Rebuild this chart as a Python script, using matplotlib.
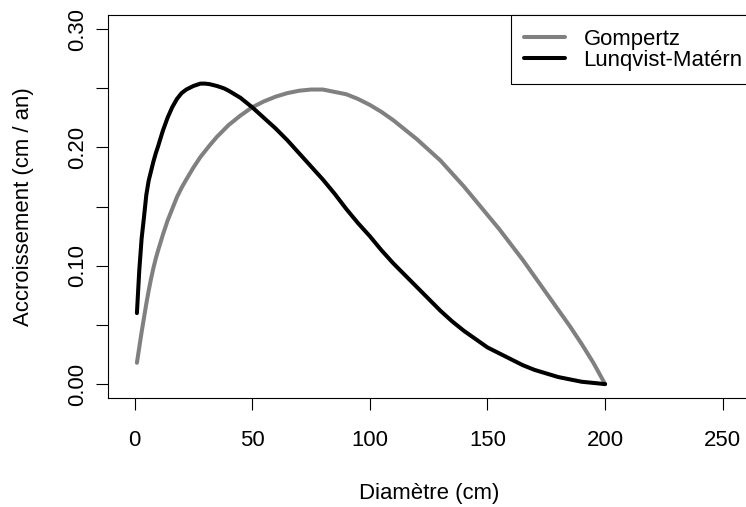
import matplotlib
matplotlib.use("Agg")
import matplotlib.pyplot as plt

plt.rcParams['font.family'] = ['Liberation Sans', 'DejaVu Sans']

# Data
diam = [1, 2, 3, 4, 5, 6, 7, 8, 9, 10, 12, 14, 16, 18, 20, 22, 25, 28, 30, 32, 35, 38,
        40, 45, 50, 55, 60, 65, 70, 75, 80, 85, 90, 95, 100, 105, 110, 115, 120, 125,
        130, 135, 140, 145, 150, 155, 160, 165, 170, 175, 180, 185, 190, 195, 200]
gompertz = [0.018, 0.031, 0.044, 0.056, 0.068, 0.079, 0.089, 0.098, 0.106, 0.113,
            0.126, 0.138, 0.148, 0.158, 0.166, 0.173, 0.183, 0.192, 0.197, 0.202,
            0.209, 0.215, 0.219, 0.227, 0.234, 0.239, 0.243, 0.246, 0.248, 0.249,
            0.249, 0.247, 0.245, 0.241, 0.236, 0.230, 0.223, 0.215, 0.207, 0.198,
            0.189, 0.178, 0.167, 0.155, 0.143, 0.131, 0.118, 0.105, 0.091, 0.077,
            0.063, 0.049, 0.034, 0.018, 0.000]
lunqvist = [0.060, 0.096, 0.123, 0.141, 0.160, 0.172, 0.180, 0.188, 0.195, 0.201,
            0.214, 0.225, 0.234, 0.241, 0.246, 0.249, 0.252, 0.254, 0.254, 0.2535,
            0.252, 0.250, 0.248, 0.242, 0.234, 0.225, 0.216, 0.206, 0.195, 0.184,
            0.173, 0.161, 0.148, 0.136, 0.125, 0.113, 0.102, 0.092, 0.082, 0.072,
            0.062, 0.053, 0.045, 0.038, 0.031, 0.026, 0.021, 0.016, 0.012, 0.009,
            0.006, 0.004, 0.002, 0.001, 0.000]
series_labels = ["Gompertz", "Lunqvist-Matérn"]
x_ticks = [0, 50, 100, 150, 200, 250]
y_ticks = [0.00, 0.05, 0.10, 0.15, 0.20, 0.25, 0.30]
y_ticklabels = ["0.00", "", "0.10", "", "0.20", "", "0.30"]

W, H = 746, 507
fig = plt.figure(figsize=(W / 100, H / 100), dpi=100)
left_px, right_px, top_px, bottom_px = 107.5, 751.0, 15.0, 398.3
ax = fig.add_axes([left_px / W, 1 - bottom_px / H,
                   (right_px - left_px) / W, (bottom_px - top_px) / H])

fs = 15.9
ax.plot(diam, gompertz, color='#808080', lw=2.9, solid_capstyle='round',
        solid_joinstyle='round', label=series_labels[0])
ax.plot(diam, lunqvist, color='black', lw=2.9, solid_capstyle='round',
        solid_joinstyle='round', label=series_labels[1])

ax.set_xlim(-11.5, 262)
ax.set_ylim(-0.012, 0.312)
ax.set_xticks(x_ticks)
ax.set_xticklabels([str(t) for t in x_ticks])
ax.set_yticks(y_ticks)
ax.set_yticklabels(y_ticklabels)
ax.tick_params(axis='both', direction='out', length=8.6, width=0.8, colors='black',
               labelsize=fs)
ax.tick_params(axis='x', pad=14)
ax.tick_params(axis='y', pad=5.5, labelrotation=90)
for lab in ax.get_yticklabels():
    lab.set_va('center')
for s in ax.spines.values():
    s.set_linewidth(0.8)
    s.set_color('black')

ax.set_xlabel("Diamètre (cm)", fontsize=fs)
ax.set_ylabel("Accroissement (cm / an)", fontsize=fs)
ax.xaxis.label.set_va('center')
ax.yaxis.label.set_va('center')
ax.xaxis.set_label_coords(((left_px + right_px) / 2 - left_px) / (right_px - left_px),
                          (bottom_px - 493) / (bottom_px - top_px))
ax.yaxis.set_label_coords((23 - left_px) / (right_px - left_px), 0.5)

leg = ax.legend(loc='upper left', bbox_to_anchor=(510.7 / W, 1 - 15 / H),
                bbox_transform=fig.transFigure, borderaxespad=0, fancybox=False,
                framealpha=1, edgecolor='black', fontsize=fs, handlelength=1.82,
                handletextpad=0.86, labelspacing=0.0, borderpad=0.62)
leg.get_frame().set_linewidth(0.8)

fig.savefig("out.png", dpi=100)
